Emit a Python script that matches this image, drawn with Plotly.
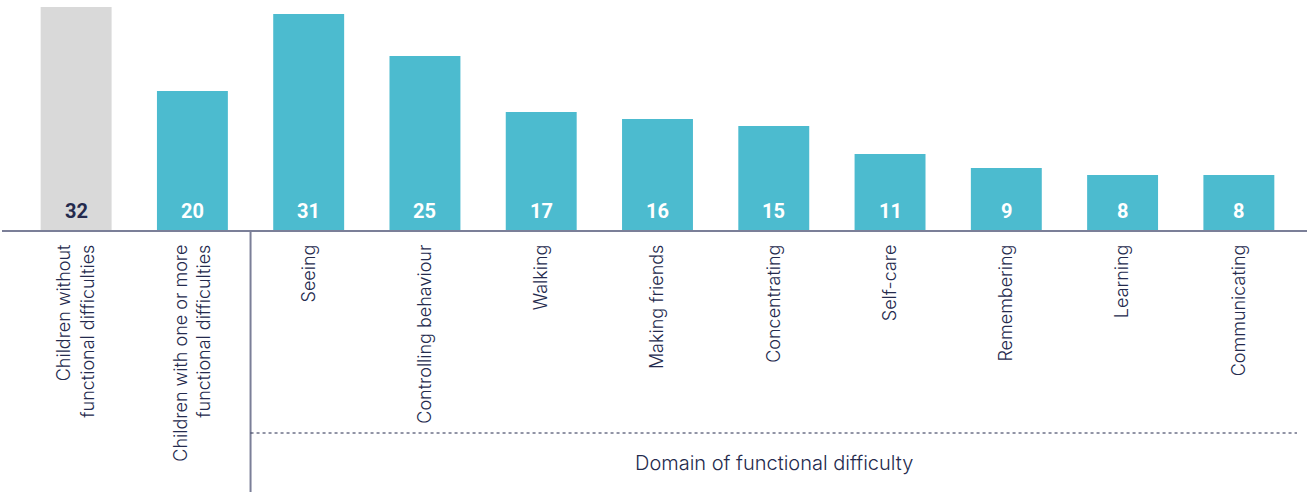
import plotly.graph_objects as go

# Share of children (%) by functional difficulty status and domain
categories = [
    "Children without<br>functional difficulties",
    "Children with one or more<br>functional difficulties",
    "Seeing",
    "Controlling behaviour",
    "Walking",
    "Making friends",
    "Concentrating",
    "Self-care",
    "Remembering",
    "Learning",
    "Communicating",
]
values = [32, 20, 31, 25, 17, 16, 15, 11, 9, 8, 8]

TEAL = "#4cbbcf"
GREY = "#d9d9d9"
NAVY = "#242a4d"
AXIS = "#7b7f98"
FONT = "Inter"

bar_colors = [GREY] + [TEAL] * (len(values) - 1)
label_colors = [NAVY] + ["white"] * (len(values) - 1)

x_idx = list(range(len(categories)))

fig = go.Figure(
    go.Bar(
        x=x_idx,
        y=values,
        width=0.61,
        marker=dict(color=bar_colors, line=dict(width=0)),
        hoverinfo="skip",
    )
)

# Value labels sitting at the foot of each bar
for i, v in enumerate(values):
    fig.add_annotation(
        x=i, y=0, yref="y", text=f"<b>{v}</b>", showarrow=False,
        yanchor="bottom", yshift=6,
        font=dict(family="Roboto", size=20, color=label_colors[i]),
    )

fig.update_layout(
    width=1307, height=492,
    margin=dict(l=18, r=10, t=0, b=261),
    paper_bgcolor="white", plot_bgcolor="white",
    showlegend=False,
    bargap=0.39,
    font=dict(family=FONT, color=NAVY),
)

fig.update_xaxes(
    tickmode="array", tickvals=x_idx, ticktext=categories,
    tickangle=-90, ticklabelstandoff=9,
    tickfont=dict(family=FONT, size=18, color=NAVY, weight=300),
    range=[-0.5, 10.5], showgrid=False, zeroline=False, showline=False,
    ticks="",
)
fig.update_yaxes(range=[0, 33], visible=False, showgrid=False)

# Baseline running the full width
fig.add_shape(type="line", xref="paper", yref="paper",
              x0=-16 / 1279, x1=1.02, y0=0, y1=0,
              line=dict(color=AXIS, width=2))
# Separator between the overall groups and the domains
fig.add_shape(type="line", xref="x", yref="paper",
              x0=1.5, x1=1.5, y0=0, y1=-1.14,
              line=dict(color=AXIS, width=2))
# Dotted bracket for the domain group
fig.add_shape(type="line", xref="x", yref="paper",
              x0=1.5, x1=10.58, y0=-0.8745, y1=-0.8745,
              line=dict(color=NAVY, width=1, dash="dot"))
fig.add_annotation(
    x=6.0, xref="x", y=-1.004, yref="paper",
    text="Domain of functional difficulty", showarrow=False,
    font=dict(family=FONT, size=20, color=NAVY, weight=300),
    xanchor="center", yanchor="middle",
)

fig.write_html("out.html")
